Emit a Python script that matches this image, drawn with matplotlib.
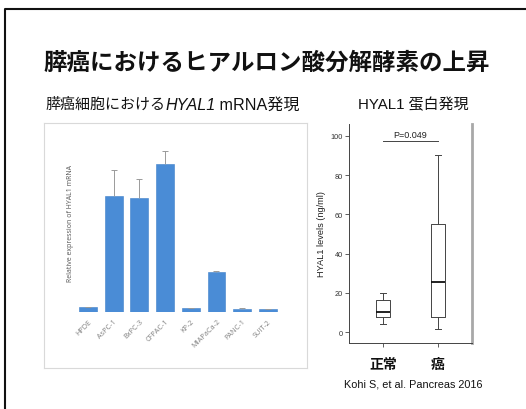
import numpy as np
import matplotlib
matplotlib.use("Agg")
import matplotlib.pyplot as plt
from matplotlib.lines import Line2D

# ---------------- data ----------------
cell_lines = ["HPDE", "AsPC-1", "BxPC-3", "CFPAC-1", "KP-2", "MIAPaCa-2", "PANC-1", "SUIT-2"]
mrna_expr = [1.0, 23.2, 22.8, 29.6, 0.8, 8.0, 0.6, 0.6]
mrna_err = [0.0, 5.2, 3.8, 2.6, 0.1, 0.2, 0.3, 0.1]

groups = ["正常", "癌"]
box_whislo = [4.2, 1.7]
box_q1 = [7.6, 7.5]
box_med = [10.2, 25.8]
box_q3 = [16.5, 55.3]
box_whishi = [19.9, 90.0]
yticks_box = [0, 20, 40, 60, 80, 100]
p_text = "P=0.049"

title = "膵癌におけるヒアルロン酸分解酵素の上昇"
sub_left = ["膵癌細胞における", "HYAL1", " mRNA発現"]
sub_right = "HYAL1 蛋白発現"
citation = "Kohi S, et al. Pancreas 2016"

W, H = 526, 410
fig = plt.figure(figsize=(W / 100, H / 100), dpi=100)
fig.patch.set_facecolor("white")

def fx(px):
    return px / W

def fy(py):
    return 1 - py / H

def ax_px(l, t, r, b):
    return [fx(l), fy(b), (r - l) / W, (b - t) / H]

JP = ["Noto Sans CJK JP", "DejaVu Sans"]
SANS = ["Liberation Sans", "Noto Sans CJK JP", "DejaVu Sans"]

# ---------------- outer slide frame ----------------
fig.add_artist(Line2D([fx(4.5), fx(4.5), fx(526)], [fy(410), fy(10), fy(10)],
                      transform=fig.transFigure, color="#111111", lw=1.5))

# ---------------- titles ----------------
fig.text(fx(43), fy(63), title, family=JP, fontsize=16.9, fontweight="bold",
         va="center", ha="left", color="#111111")

renderer = fig.canvas.get_renderer()
xcur = fx(45)
styles = [dict(family=JP, fontsize=10.8), dict(family=SANS, style="italic", fontsize=11.6),
          dict(family=SANS, fontsize=11.6)]
for s, st in zip(sub_left, styles):
    t = fig.text(xcur, fy(105), s, va="center", ha="left", color="#111111", **st)
    bb = t.get_window_extent(renderer)
    xcur += bb.width / W

fig.text(fx(413), fy(105), sub_right, family=SANS, fontsize=10.8, va="center", ha="center",
         color="#111111")

# ---------------- bar chart panel background ----------------
bg = fig.add_axes(ax_px(44, 124, 307, 369))
grad_y = np.linspace(0, 1, 256)
vals = np.interp(grad_y, [0, 0.25, 0.77, 1.0], [1.0, 0.985, 0.86, 0.97])
img = np.dstack([vals, vals, vals])[:, :1, :].repeat(4, axis=1)
bg.imshow(img, aspect="auto", extent=[0, 1, 0, 1], origin="upper")
bg.set_xlim(0, 1)
bg.set_ylim(0, 1)
bg.set_xticks([])
bg.set_yticks([])
for sp in bg.spines.values():
    sp.set_color("#d9d9d9")
    sp.set_linewidth(0.8)

# ---------------- bar chart ----------------
ax = fig.add_axes(ax_px(66, 135, 290, 313))
ax.patch.set_alpha(0)
x = np.arange(len(cell_lines))
ax.bar(x, mrna_expr, width=0.7, color="#4a8cd6", edgecolor="#3f7fc8", linewidth=0.4, zorder=3)
eb = ax.errorbar(x, mrna_expr, yerr=[np.zeros(len(x)), mrna_err], fmt="none",
                 ecolor="#9a9a9a", elinewidth=0.7, capsize=2, capthick=0.7, zorder=4)
eb[1][0].set_visible(False)
ax.set_xlim(-0.856, 7.86)
ax.set_ylim(0, 35.6)
ax.set_yticks([])
ax.set_xticks(x)
ax.set_xticklabels(cell_lines, rotation=45, ha="right", rotation_mode="anchor",
                   fontsize=5.2, color="#808080", family=["Open Sans", "DejaVu Sans"])
ax.tick_params(axis="x", length=0, pad=4)
for sp in ax.spines.values():
    sp.set_visible(False)
fig.text(fx(70), fy(224), "Relative expression of HYAL1 mRNA", rotation=90,
         fontsize=5, color="#555555", va="center", ha="center", family=["Open Sans", "DejaVu Sans"])

# ---------------- box plot ----------------
bx = fig.add_axes(ax_px(349, 125, 472, 344))
stats = []
for i, g in enumerate(groups):
    stats.append(dict(label=g, whislo=box_whislo[i], q1=box_q1[i], med=box_med[i],
                      q3=box_q3[i], whishi=box_whishi[i], fliers=[]))
lc = "#444444"
bx.bxp(stats, positions=[1, 2], widths=0.27, showfliers=False,
       boxprops=dict(color=lc, linewidth=0.7),
       whiskerprops=dict(color=lc, linewidth=0.7),
       capprops=dict(color=lc, linewidth=0.7),
       medianprops=dict(color="#111111", linewidth=1.3),
       capwidths=0.1)
bx.set_xlim(0.38, 2.62)
bx.set_ylim(-5.5, 106)
bx.set_yticks(yticks_box)
bx.set_yticklabels([str(v) for v in yticks_box], fontsize=5.3, color="#333333", family=SANS)
bx.set_xticks([1, 2])
bx.set_xticklabels(groups, fontsize=10, fontweight="bold", family=JP, color="#111111")
bx.tick_params(axis="y", length=3, width=0.6, color="#444444", pad=1.5)
bx.tick_params(axis="x", length=3, width=0.6, color="#444444", pad=7)
bx.spines["top"].set_visible(False)
bx.spines["left"].set_color("#444444")
bx.spines["left"].set_linewidth(0.7)
bx.spines["bottom"].set_color("#444444")
bx.spines["bottom"].set_linewidth(0.7)
bx.spines["right"].set_color("#a8a8a8")
bx.spines["right"].set_linewidth(2.0)
bx.set_ylabel("HYAL1 levels (ng/ml)", fontsize=6.6, family=SANS, color="#222222", labelpad=3)
bx.plot([1, 2], [97.1, 97.1], color="#444444", lw=0.7)
bx.text(1.5, 98.5, p_text, fontsize=6.5, family=SANS, ha="center", va="bottom", color="#222222")

fig.text(fx(413), fy(385), citation, family=SANS, fontsize=7.8, ha="center", va="center",
         color="#111111")

fig.savefig("out.png", dpi=100, facecolor="white")
